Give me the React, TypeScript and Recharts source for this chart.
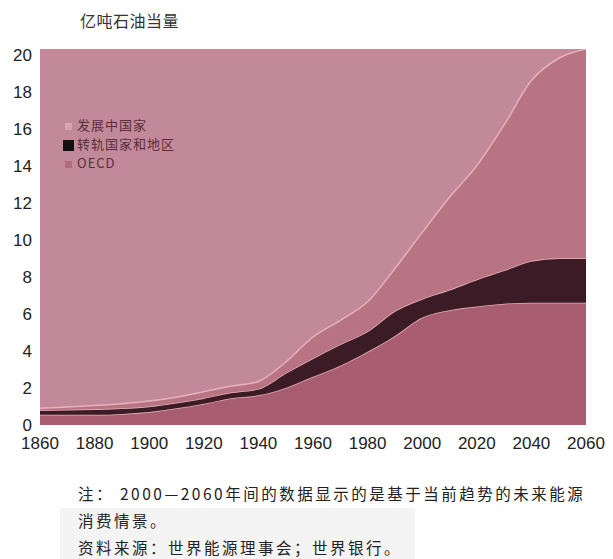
import React from 'react';
import { AreaChart, Area, XAxis, YAxis, CartesianGrid } from 'recharts';

const years = [1860, 1870, 1880, 1890, 1900, 1910, 1920, 1930, 1940, 1950, 1960, 1970, 1980, 1990, 2000, 2010, 2020, 2030, 2040, 2050, 2060];
// 亿吨石油当量, per group (stacked)
const oecd = [0.55, 0.55, 0.55, 0.6, 0.7, 0.9, 1.15, 1.45, 1.6, 2.0, 2.6, 3.2, 3.95, 4.8, 5.8, 6.2, 6.4, 6.55, 6.6, 6.6, 6.6];
const transition = [0.25, 0.27, 0.3, 0.3, 0.3, 0.3, 0.3, 0.3, 0.35, 0.8, 1.0, 1.15, 1.1, 1.35, 1.0, 1.1, 1.45, 1.8, 2.25, 2.4, 2.4];
const developing = [0.1, 0.15, 0.2, 0.25, 0.3, 0.3, 0.35, 0.35, 0.4, 0.6, 1.15, 1.3, 1.6, 2.3, 3.6, 5.0, 6.15, 7.85, 9.75, 10.8, 11.3];

const xTicks = [1860, 1880, 1900, 1920, 1940, 1960, 1980, 2000, 2020, 2040, 2060];
const yTicks = [0, 2, 4, 6, 8, 10, 12, 14, 16, 18, 20];

const legendItems = [
  { name: '发展中国家', color: '#d9a3b0', size: 7 },
  { name: '转轨国家和地区', color: '#111111', size: 11 },
  { name: 'OECD', color: '#b46a7c', size: 7 },
];

const data = years.map((year, i) => ({
  year,
  oecd: oecd[i],
  transition: transition[i],
  developing: developing[i],
}));

const tickStyle = { fontFamily: '"Liberation Sans", Arial, sans-serif', fontSize: 17, fill: '#222' };
const cjk = '"Noto Sans CJK SC", "Noto Sans", sans-serif';
const edge = '#e6b2bb';

const App: React.FC = () => {
  return (
    <div style={{ position: 'absolute', left: 0, top: 0, width: 613, height: 559, background: '#fff', overflow: 'hidden' }}>
      <div style={{ position: 'absolute', left: 80, top: 8, fontFamily: cjk, fontSize: 16, color: '#333', letterSpacing: 0.5 }}>
        亿吨石油当量
      </div>

      <div style={{ position: 'absolute', left: 0, top: 0 }}>
        <AreaChart width={613} height={460} data={data} margin={{ top: 49, right: 27, left: 0, bottom: 0 }}>
          <CartesianGrid fill="#c1899a" horizontal={false} vertical={false} />
          <XAxis
            dataKey="year"
            type="number"
            domain={[1860, 2060]}
            ticks={xTicks}
            axisLine={false}
            tickLine={false}
            tickSize={8}
            tickMargin={4}
            height={35}
            tick={tickStyle}
          />
          <YAxis
            type="number"
            domain={[0, 20.3]}
            ticks={yTicks}
            allowDataOverflow
            axisLine={false}
            tickLine={false}
            tickSize={8}
            tickMargin={0}
            width={40}
            tick={tickStyle}
          />
          <Area type="monotone" dataKey="oecd" stackId="a" fill="#a95d70" fillOpacity={1} stroke={edge} strokeWidth={1.5} isAnimationActive={false} />
          <Area type="monotone" dataKey="transition" stackId="a" fill="#3b1b25" fillOpacity={1} stroke={edge} strokeWidth={1.5} isAnimationActive={false} />
          <Area type="monotone" dataKey="developing" stackId="a" fill="#b97483" fillOpacity={1} stroke={edge} strokeWidth={1.5} isAnimationActive={false} />
        </AreaChart>
      </div>

      <div style={{ position: 'absolute', left: 62, top: 115, fontFamily: cjk, fontSize: 13, color: '#5b2e3e' }}>
        {legendItems.map((item) => (
          <div key={item.name} style={{ display: 'flex', alignItems: 'center', height: 19, lineHeight: '19px' }}>
            <span style={{ display: 'inline-block', width: 12, textAlign: 'center' }}>
              <span style={{ display: 'inline-block', width: item.size, height: item.size, background: item.color, verticalAlign: 'middle' }} />
            </span>
            <span style={{ marginLeft: 3, lineHeight: '19px', letterSpacing: 1 }}>{item.name}</span>
          </div>
        ))}
      </div>

      <div style={{ position: 'absolute', left: 60, top: 508, width: 355, height: 51, background: '#f4f4f4' }} />
      <div style={{ position: 'absolute', left: 78, top: 480, fontFamily: cjk, fontSize: 15.5, color: '#222', lineHeight: '27px', letterSpacing: 2.5 }}>
        <div>注： 2000—2060年间的数据显示的是基于当前趋势的未来能源</div>
        <div>消费情景。</div>
        <div>资料来源：世界能源理事会；世界银行。</div>
      </div>
    </div>
  );
};

export default App;
